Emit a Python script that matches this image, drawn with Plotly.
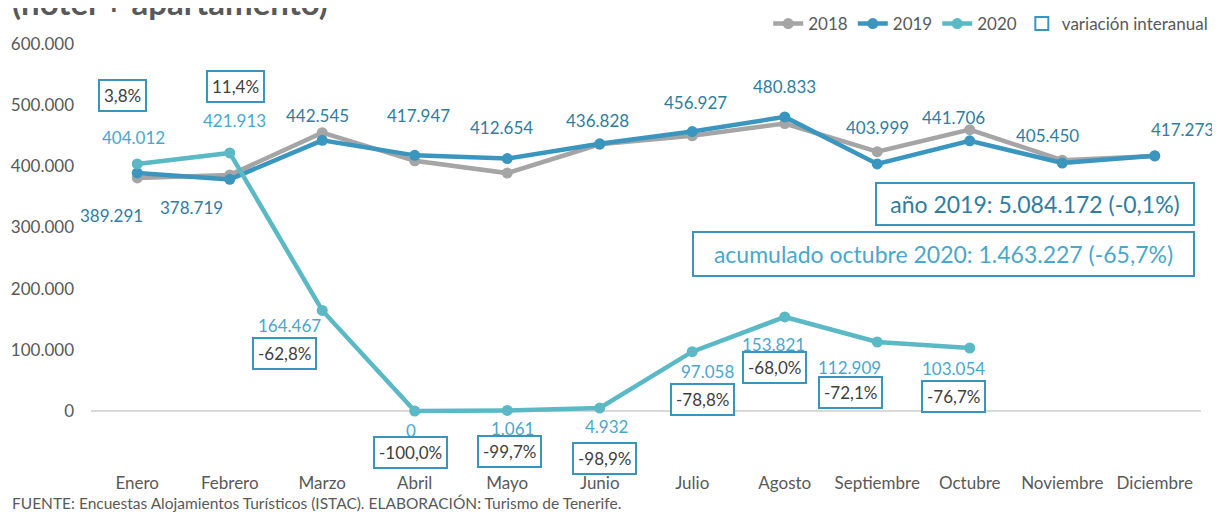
import plotly.graph_objects as go

months = ["Enero", "Febrero", "Marzo", "Abril", "Mayo", "Junio", "Julio",
          "Agosto", "Septiembre", "Octubre", "Noviembre", "Diciembre"]

y2018 = [381000, 386000, 455000, 409000, 389000, 436000, 450000, 470000,
         424000, 460000, 410000, 417000]
y2019 = [389291, 378719, 442545, 417947, 412654, 436828, 456927, 480833,
         403999, 441706, 405450, 417273]
y2020 = [404012, 421913, 164467, 0, 1061, 4932, 97058, 153821, 112909, 103054,
         None, None]
variacion = ["3,8%", "11,4%", "-62,8%", "-100,0%", "-99,7%", "-98,9%",
             "-78,8%", "-68,0%", "-72,1%", "-76,7%"]

total_2019 = "año 2019: 5.084.172 (-0,1%)"
acum_2020 = "acumulado octubre 2020: 1.463.227 (-65,7%)"
titulo = "(hotel + apartamento)"
fuente = "FUENTE: Encuestas Alojamientos Turísticos (ISTAC). ELABORACIÓN: Turismo de Tenerife."

FONT = "Lato"
GRAY = "#a5a5a5"
BLUE19 = "#3a96bf"
TEAL20 = "#5bb9c5"
LBL19 = "#2f7d9f"
LBL20 = "#4aa7cc"
BOX = "#3a95bd"
TXT = "#595959"


def fmt(v):
    return f"{v:,}".replace(",", ".")


# label offsets in px (dx, dy) relative to the point
off19 = [(-26, -43), (-38, -28), (-5, 25), (4, 40), (-6, 31), (-2, 23),
         (3, 29), (0, 30), (0, 36), (-16, 23), (-15, 28), (28, 26)]
off20 = [(-4, 26), (5, 32), (-33, -15), (-4, -19), (5, -18), (7, -18),
         (15, -20), (-11, -28), (-28, -26), (-16, -20)]
offvar = [(-15, 68), (6, 66), (-38, -43), (-4, -41), (2, -41), (5, -50),
          (10, -48), (-10, -51), (-27, -51), (-16, -48)]

fig = go.Figure()
fig.add_trace(go.Scatter(x=months, y=y2018, name="2018", mode="lines+markers",
                         line=dict(color=GRAY, width=4.5), marker=dict(size=11)))
fig.add_trace(go.Scatter(x=months, y=y2019, name="2019", mode="lines+markers",
                         line=dict(color=BLUE19, width=4.5), marker=dict(size=11)))
fig.add_trace(go.Scatter(x=months, y=y2020, name="2020", mode="lines+markers",
                         line=dict(color=TEAL20, width=4.5), marker=dict(size=11)))
fig.add_trace(go.Scatter(x=[None], y=[None], name="variación interanual", mode="markers",
                         marker=dict(symbol="square-open", size=13, color=BOX,
                                     line=dict(width=2, color=BOX))))

ann = []
for m, v, (dx, dy) in zip(months, y2019, off19):
    ann.append(dict(x=m, y=v, text=fmt(v), showarrow=False, xshift=dx, yshift=dy,
                    font=dict(size=17, color=LBL19)))
for m, v, (dx, dy) in zip(months, y2020, off20):
    ann.append(dict(x=m, y=v, text=fmt(v), showarrow=False, xshift=dx, yshift=dy,
                    font=dict(size=17, color=LBL20)))
for m, v, t, (dx, dy) in zip(months, y2020, variacion, offvar):
    ann.append(dict(x=m, y=v, text=t, showarrow=False, xshift=dx, yshift=dy,
                    font=dict(size=17, color="#404040"), bordercolor=BOX,
                    borderwidth=2, borderpad=4, bgcolor="white"))

ann.append(dict(xref="paper", yref="paper", x=0.9946, y=0.615, xanchor="right",
                yanchor="middle", text=total_2019, showarrow=False, width=314, height=38,
                font=dict(size=23, color=LBL19), bordercolor=BOX, borderwidth=2))
ann.append(dict(xref="paper", yref="paper", x=0.9946, y=0.495, xanchor="right",
                yanchor="middle", text=acum_2020, showarrow=False, width=497, height=40,
                font=dict(size=23, color=LBL20), bordercolor=BOX, borderwidth=2))
ann.append(dict(xref="paper", yref="paper", x=-0.073, y=1.10, xanchor="left",
                yanchor="middle", text=f"<b>{titulo}</b>", showarrow=False,
                font=dict(size=33, color=TXT)))
ann.append(dict(xref="paper", yref="paper", x=-0.073, y=-0.103, xanchor="left",
                yanchor="middle", text=fuente, showarrow=False,
                font=dict(size=15.5, color=TXT)))

# page body adds an 8px margin, so the figure is 8px smaller than the window
fig.update_layout(
    width=1212, height=506,
    paper_bgcolor="white", plot_bgcolor="white",
    font=dict(family=FONT, color=TXT, size=17),
    margin=dict(l=83, r=19, t=36, b=54, autoexpand=False),
    annotations=ann,
    legend=dict(orientation="h", x=1.011, xanchor="right", y=1.048, yanchor="middle",
                font=dict(size=17, color=TXT), bgcolor="rgba(0,0,0,0)"),
    xaxis=dict(type="category", showgrid=False, showline=False, ticks="",
               ticklabelstandoff=11, tickfont=dict(size=17, color=TXT),
               range=[-0.5, 11.5]),
    yaxis=dict(range=[-80000, 600000], tickvals=[0, 100000, 200000, 300000, 400000,
                                                 500000, 600000],
               ticktext=["0", "100.000", "200.000", "300.000", "400.000", "500.000",
                         "600.000"],
               showgrid=False, zeroline=True, zerolinecolor="#d9d9d9", zerolinewidth=2,
               ticklabelstandoff=16, tickfont=dict(size=17, color=TXT)),
)

fig.write_html("out.html")
